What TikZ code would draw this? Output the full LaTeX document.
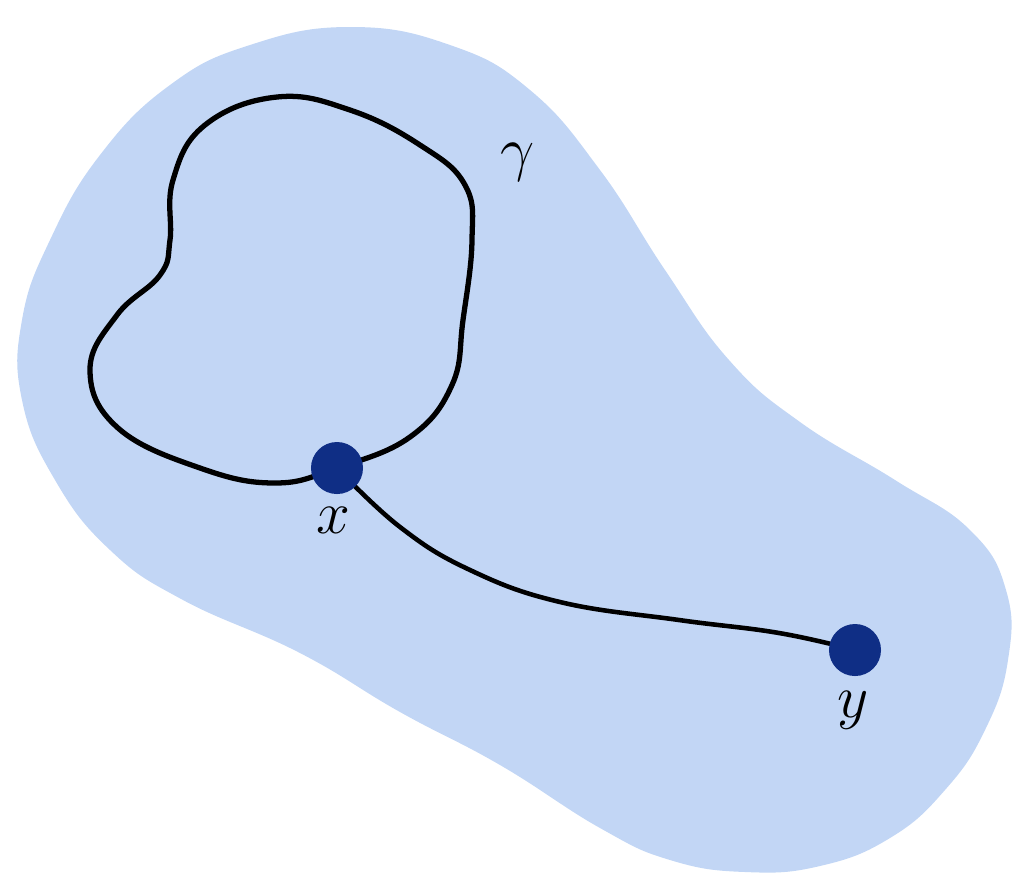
\documentclass[tikz,border=0pt]{standalone}
\usetikzlibrary{backgrounds}
\definecolor{region}{HTML}{C2D6F5}
\definecolor{pointblue}{HTML}{0F2E85}

\begin{document}
\begin{tikzpicture}[
    x=0.01cm, y=-0.01cm,
    pt/.style={circle, fill=pointblue, minimum size=5.2mm, inner sep=0pt},
    curve/.style={black, line width=1.5pt, line cap=round, line join=round},
    lab/.style={font=\fontsize{18}{21}\selectfont, inner sep=0pt},
]
\useasboundingbox (0,0) rectangle (1024,890);

% the two marked points and their labels
\node[pt] (x) at (337,468) {};
\node[pt] (y) at (855,650) {};
\node[lab] (xlab) at (333,520) {$x$};
\node[lab] (ylab) at (853,710) {$y$};
\node[lab] (gammalab) at (518,162) {$\gamma$};

\begin{pgfonlayer}{background}
    % ---- the region ----
    \fill[region] plot[smooth cycle, tension=0.75] coordinates {
        (350,27) (450,45) (530,90) (600,170) (665,270) (729,360)
        (800,422) (895,480) (970,530) (1006,590) (1008,660) (985,730)
        (945,790) (890,838) (820,866) (745,872) (670,860) (600,828)
        (500,765) (400,712) (300,653) (183,600) (110,550) (55,480)
        (22,400) (22,320) (50,240) (100,155) (170,85) (250,45)};
    % ---- the loop gamma through x ----
    \draw[curve] plot[smooth cycle, tension=0.7] coordinates {
        (x.center) (410,437) (452,385) (463,320) (472,240) (465,185)
        (420,145) (350,110) (277,97) (205,125) (173,180) (170,240)
        (160,275) (117,315) (90,370) (118,428) (200,468) (275,483)};
    % ---- the path from x to y ----
    \draw[curve, line width=1.3pt] plot[smooth, tension=0.7] coordinates {
        (x.center) (400,527) (470,570) (560,602) (679,620) (779,633)
        (y.center)};
\end{pgfonlayer}
\end{tikzpicture}
\end{document}
